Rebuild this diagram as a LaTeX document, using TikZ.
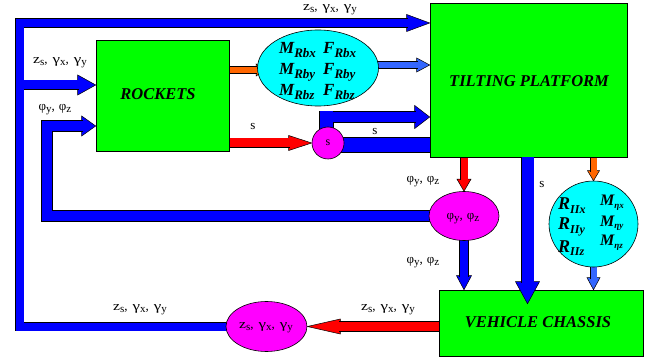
\documentclass[tikz,border=0pt]{standalone}
\usepackage{fontspec}
\usepackage{graphicx}
\setmainfont{Liberation Serif}
\usetikzlibrary{calc,shapes.geometric}
\pgfdeclarelayer{bg}
\pgfsetlayers{bg,main}
\definecolor{cgreen}{RGB}{0,255,0}
\definecolor{ccyan}{RGB}{0,255,255}
\definecolor{cpink}{RGB}{255,0,255}
\definecolor{cblue}{RGB}{0,0,255}
\definecolor{cred}{RGB}{255,0,0}
\definecolor{corange}{RGB}{255,102,0}
\definecolor{clblue}{RGB}{51,102,255}
\newcommand\sbs[1]{\raisebox{-0.35ex}{\fontsize{11}{11}\selectfont #1}}
\newcommand\gam{\scalebox{1.3}[1]{γ}}
\newcommand\zz{\scalebox{1.2}[1]{z}}
\newcommand\zgg{\zz\sbs{s},\hspace{5pt}\gam\sbs{x},\hspace{5pt}\gam\sbs{y}}
\newcommand\ppz{φ\sbs{y},\hspace{4pt}φ\sbs{z}}
\newcommand\bsub[4]{{\fontsize{#3}{#3}\selectfont\bfseries\itshape #1\raisebox{-0.4ex}{\fontsize{#4}{#4}\selectfont #2}}}
\newcommand\ahead[5]{\filldraw[fill=#1, draw=black, line width=0.5pt, shift={(#2)}, rotate=#3] (0,0) -- (-#4,#5) -- (-#4,-#5) -- cycle;}
\begin{document}
\begin{tikzpicture}[x=1pt,y=-1pt,
  box/.style={draw=black, fill=cgreen, line width=0.6pt, inner sep=0},
  ell/.style={draw=black, ellipse, line width=0.6pt, inner sep=0},
  lab/.style={inner sep=0, font=\fontsize{13}{15}\selectfont},
  bt/.style={inner sep=0, font=\fontsize{16.5}{18}\selectfont\bfseries\itshape},
  ol/.style={draw=black, line width=#1, line join=miter},
  cl/.style 2 args={draw=#1, line width=#2, line join=miter},
  ent/.style={anchor=base west, inner sep=0}]
\useasboundingbox (0,0) rectangle (648,358);
% boxes and ellipses
\node[box, minimum width=133pt, minimum height=111pt] (rockets) at (162.5,95.5) {};
\node[box, minimum width=197pt, minimum height=154pt] (platform) at (528.5,80) {};
\node[box, minimum width=204pt, minimum height=66pt] (chassis) at (541,323) {};
\node[ell, fill=ccyan, minimum width=121pt, minimum height=76pt] (ell1) at (318,68) {};
\node[ell, fill=ccyan, minimum width=89pt, minimum height=86pt] (ell2) at (593.5,224) {};
\node[ell, fill=cpink, minimum width=70pt, minimum height=49pt] (ephi) at (464,216) {};
\node[ell, fill=cpink, minimum width=81pt, minimum height=50pt] (ez) at (266.5,326.5) {};
\node[circle, draw=black, fill=cpink, minimum size=32pt, inner sep=0, line width=0.6pt] (scirc) at (328,143) {};
% routing coordinates
\coordinate (c1) at (19.5,327);
\coordinate (c2) at (19.5,23);
\coordinate (c3) at (19.5,85);
\coordinate (p1) at (47,215);
\coordinate (p2) at (47,126);
\coordinate (oy) at (0,70);
\coordinate (ly) at (0,65);
\coordinate (sy) at (0,145);
\coordinate (uy) at (326.5,117);
\coordinate (ut) at (326.5,111.5);
\coordinate (bx) at (527.5,0);
\begin{pgfonlayer}{bg}
% arrow heads
\ahead{cblue}{c2 -| platform.west}{0}{23}{8.5}
\ahead{cblue}{c3 -| rockets.west}{0}{18}{10}
\ahead{cblue}{p2 -| rockets.west}{0}{14}{10}
\ahead{corange}{$(oy -| ell1.west)+(7,0)$}{0}{8}{6}
\ahead{cred}{scirc.west}{0}{23}{7.5}
\ahead{clblue}{ly -| platform.west}{0}{13}{7}
\ahead{cblue}{uy -| platform.west}{0}{15}{11.5}
\ahead{cred}{ephi.north}{-90}{12}{7}
\ahead{cblue}{ephi.south |- chassis.north}{-90}{14}{7.5}
\ahead{corange}{ell2.north}{-90}{10}{6}
\ahead{clblue}{ell2.south |- chassis.north}{-90}{12}{6.5}
\ahead{cred}{ez.east}{180}{33}{7.5}
% outlines
\draw[ol=9.2pt] (ez.center) -- (ez.center -| c1) -- (c2) -- ($(c2 -| platform.west)+(-22,0)$);
\draw[ol=10.2pt] (c3) -- ($(c3 -| rockets.west)+(-17,0)$);
\draw[ol=11.2pt] (ephi.center) -- (ephi.center -| p1) -- (p2) -- ($(p2 -| rockets.west)+(-13,0)$);
\draw[ol=7.2pt] (oy -| rockets.center) -- ($(oy -| ell1.west)+(0,0)$);
\draw[ol=10.2pt] (scirc.center -| rockets.center) -- ($(scirc.west)+(-22,0)$);
\draw[ol=7.2pt] (ly -| ell1.center) -- ($(ly -| platform.west)+(-12,0)$);
\draw[ol=15.2pt] (sy -| scirc.center) -- (sy -| platform.center);
\draw[ol=14.2pt] (uy |- scirc.center) -- (ut);
\draw[ol=11.2pt] ($(uy)+(-6.5,0)$) -- ($(uy -| platform.west)+(-14,0)$);
\draw[ol=8.2pt] (ephi.north |- platform.center) -- ($(ephi.north)+(0,-11)$);
\draw[ol=9.2pt] (ephi.center) -- ($(ephi.south |- chassis.north)+(0,-13)$);
\draw[ol=7.2pt] (ell2.north |- platform.center) -- ($(ell2.north)+(0,-9)$);
\draw[ol=7.2pt] (ell2.center) -- ($(ell2.south |- chassis.north)+(0,-11)$);
\draw[ol=10.2pt] (ez.east -| chassis.center) -- ($(ez.east)+(32,0)$);
% colours
\draw[cl={cblue}{8pt}] (ez.center) -- (ez.center -| c1) -- (c2) -- ($(c2 -| platform.west)+(-22,0)$);
\draw[cl={cblue}{9pt}] (c3) -- ($(c3 -| rockets.west)+(-17,0)$);
\draw[cl={cblue}{10pt}] (ephi.center) -- (ephi.center -| p1) -- (p2) -- ($(p2 -| rockets.west)+(-13,0)$);
\draw[cl={corange}{6pt}] (oy -| rockets.center) -- ($(oy -| ell1.west)+(0,0)$);
\draw[cl={cred}{9pt}] (scirc.center -| rockets.center) -- ($(scirc.west)+(-22,0)$);
\draw[cl={clblue}{6pt}] (ly -| ell1.center) -- ($(ly -| platform.west)+(-12,0)$);
\draw[cl={cblue}{14pt}] (sy -| scirc.center) -- (sy -| platform.center);
\draw[cl={cblue}{13pt}] (uy |- scirc.center) -- (ut);
\draw[cl={cblue}{10pt}] ($(uy)+(-6.5,0)$) -- ($(uy -| platform.west)+(-14,0)$);
\draw[cl={cred}{7pt}] (ephi.north |- platform.center) -- ($(ephi.north)+(0,-11)$);
\draw[cl={cblue}{8pt}] (ephi.center) -- ($(ephi.south |- chassis.north)+(0,-13)$);
\draw[cl={corange}{6pt}] (ell2.north |- platform.center) -- ($(ell2.north)+(0,-9)$);
\draw[cl={clblue}{6pt}] (ell2.center) -- ($(ell2.south |- chassis.north)+(0,-11)$);
\draw[cl={cred}{9pt}] (ez.east -| chassis.center) -- ($(ez.east)+(32,0)$);
\end{pgfonlayer}
% big s arrow over the chassis
\ahead{cblue}{$(bx |- chassis.north)+(0,14)$}{-90}{22}{12}
\draw[ol=13.2pt] (bx |- platform.south) -- ($(bx |- chassis.north)+(0,-7)$);
\draw[cl={cblue}{12pt}] (bx |- platform.south) -- ($(bx |- chassis.north)+(0,-7)$);
% box texts
\node[bt] (rockt) at (158,94) {ROCKETS};
\node[bt] (platt) at (529,81) {TILTING PLATFORM};
\node[bt] (chast) at (538,322) {VEHICLE CHASSIS};
% ellipse contents
\node[ent] (m1) at (279,54) {\bsub{M}{Rbx}{17}{13}};
\node[ent] (m2) at (279,75) {\bsub{M}{Rby}{17}{13}};
\node[ent] (m3) at (279,96) {\bsub{M}{Rbz}{17}{13}};
\node[ent] (f1) at (323,54) {\bsub{F}{Rbx}{17}{13}};
\node[ent] (f2) at (323,75) {\bsub{F}{Rby}{17}{13}};
\node[ent] (f3) at (323,96) {\bsub{F}{Rbz}{17}{13}};
\node[ent] (r1) at (558,210) {\bsub{R}{IIx}{18}{12}};
\node[ent] (r2) at (558,230) {\bsub{R}{IIy}{18}{12}};
\node[ent] (r3) at (558,252) {\bsub{R}{IIz}{18}{12}};
\node[ent] (n1) at (600,206) {\bsub{M}{ηx}{16}{9}};
\node[ent] (n2) at (600,226) {\bsub{M}{ηy}{16}{9}};
\node[ent] (n3) at (600,246) {\bsub{M}{ηz}{16}{9}};
\node[lab] (ephit) at (463,219) {\ppz};
\node[lab] (ezt) at (266,328) {\zgg};
\node[inner sep=0, font=\fontsize{12}{12}\selectfont] (scirct) at (328,143) {s};
% labels
\node[lab] (l1) at (330,10) {\zgg};
\node[lab] (l2) at (60,63) {\zgg};
\node[lab] (l3) at (55,110) {\ppz};
\node[lab] (l4) at (253,127) {s};
\node[lab] (l5) at (375,132) {s};
\node[lab] (l6) at (423,182) {\ppz};
\node[lab] (l7) at (423,263) {\ppz};
\node[lab] (l8) at (542,185) {s};
\node[lab] (l9) at (388,310) {\zgg};
\node[lab] (l10) at (140,310) {\zgg};
\end{tikzpicture}
\end{document}
